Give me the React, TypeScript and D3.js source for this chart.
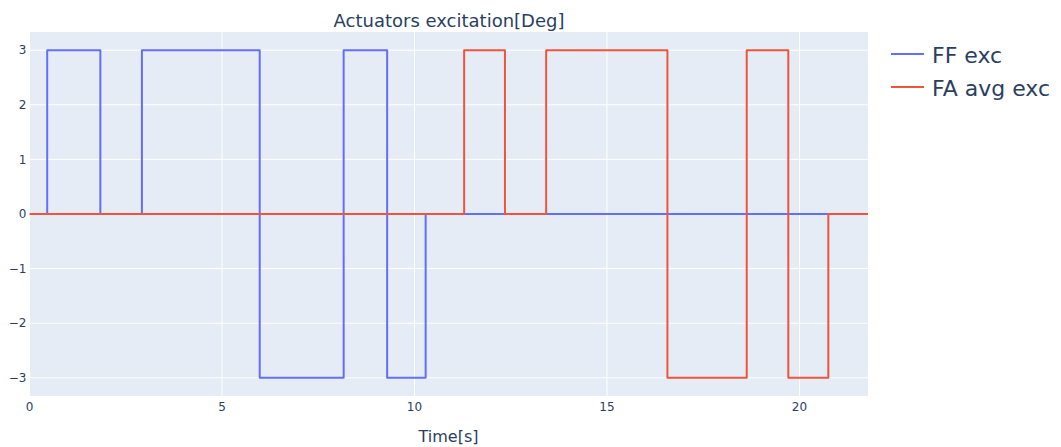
import React from "react";
import * as d3 from "d3";

const ffTimes = [0, 0.46, 1.84, 2.92, 5.98, 8.16, 9.29, 10.29, 21.78];
const ffValues = [0, 3, 0, 3, -3, 3, -3, 0, 0];
const faTimes = [0, 11.29, 12.35, 13.42, 16.57, 18.63, 19.71, 20.75, 21.78];
const faValues = [0, 3, 0, 3, -3, 3, -3, 0, 0];
const xTicks = [0, 5, 10, 15, 20];
const yTicks = [-3, -2, -1, 0, 1, 2, 3];
const seriesNames = ["FF exc", "FA avg exc"];
const seriesColors = ["#636efa", "#EF553B"];

const W = 1061;
const H = 447;
const M = { left: 29.5, right: 868, top: 32, bottom: 396 };
const FONT = "Verdana, 'DejaVu Sans', sans-serif";
const TXT = "#2a3f5f";

export default function App() {
  const x = d3.scaleLinear().domain([0, 21.78]).range([M.left, M.right]);
  const y = d3.scaleLinear().domain([-3.333, 3.333]).range([M.bottom, M.top]);
  const line = d3
    .line<[number, number]>()
    .x((d) => x(d[0]))
    .y((d) => y(d[1]))
    .curve(d3.curveStepAfter);
  const series = [
    ffTimes.map((t, i) => [t, ffValues[i]] as [number, number]),
    faTimes.map((t, i) => [t, faValues[i]] as [number, number]),
  ];
  const fmt = (v: number) => (v < 0 ? "\u2212" + Math.abs(v) : String(v));
  return (
    <svg
      width={W}
      height={H}
      style={{ position: "absolute", left: 0, top: 0, background: "#fff" }}
      fontFamily={FONT}
    >
      <defs>
        <clipPath id="plotclip">
          <rect x={M.left} y={M.top} width={M.right - M.left} height={M.bottom - M.top} />
        </clipPath>
      </defs>
      <rect x={M.left} y={M.top} width={M.right - M.left} height={M.bottom - M.top} fill="#E5ECF6" />
      {xTicks.map((t) => (
        <line key={"gx" + t} x1={x(t)} x2={x(t)} y1={M.top} y2={M.bottom} stroke="#fff" strokeWidth={1} />
      ))}
      {yTicks.map((t) => (
        <line key={"gy" + t} x1={M.left} x2={M.right} y1={y(t)} y2={y(t)} stroke="#fff" strokeWidth={t === 0 ? 2 : 1} />
      ))}
      <g clipPath="url(#plotclip)">
        {series.map((s, i) => (
          <path key={i} d={line(s) || ""} fill="none" stroke={seriesColors[i]} strokeWidth={2} strokeLinejoin="round" />
        ))}
      </g>
      {xTicks.map((t) => (
        <text key={"tx" + t} x={x(t)} y={411} textAnchor="middle" fontSize={12} fill={TXT}>
          {fmt(t)}
        </text>
      ))}
      {yTicks.map((t) => (
        <text key={"ty" + t} x={26.5} y={y(t) + 4.2} textAnchor="end" fontSize={12} fill={TXT}>
          {fmt(t)}
        </text>
      ))}
      <text x={449} y={26.5} textAnchor="middle" fontSize={18} fill={TXT}>
        Actuators excitation[Deg]
      </text>
      <text x={448.5} y={441.5} textAnchor="middle" fontSize={16} fill={TXT}>
        Time[s]
      </text>
      {seriesNames.map((n, i) => (
        <g key={n}>
          <line x1={891} x2={924} y1={54 + i * 33} y2={54 + i * 33} stroke={seriesColors[i]} strokeWidth={2} />
          <text x={932} y={63 + i * 33} fontSize={22} fill={TXT}>
            {n}
          </text>
        </g>
      ))}
    </svg>
  );
}
